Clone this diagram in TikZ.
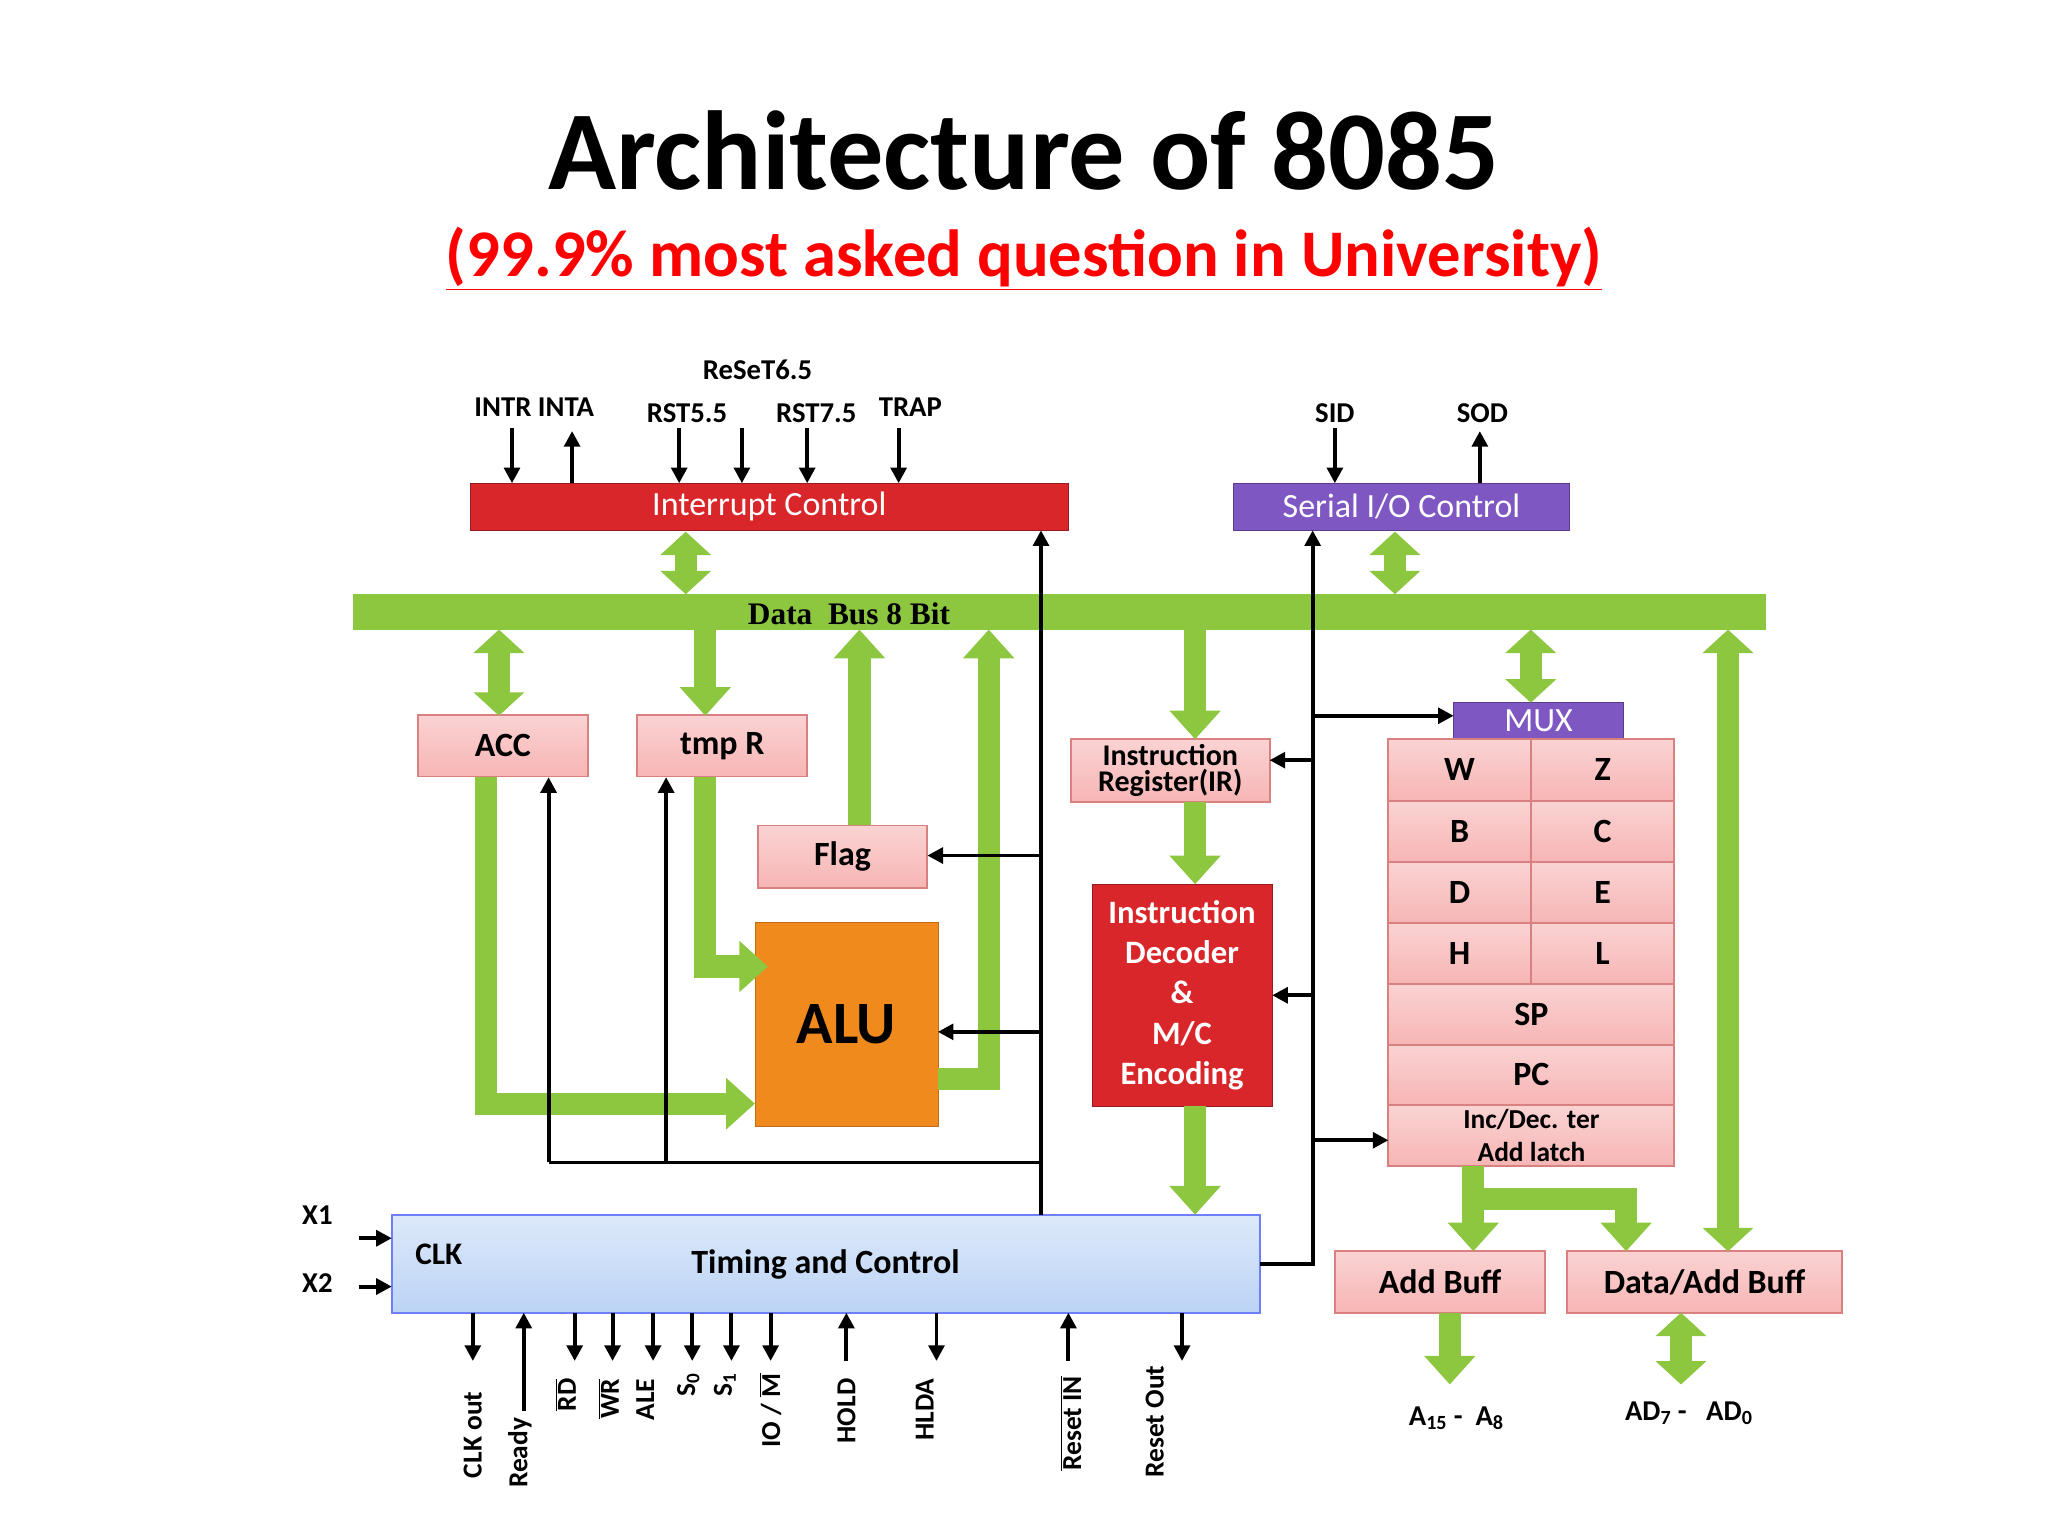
\documentclass[tikz,border=0pt]{standalone}
\usepackage{fontspec}
\setmainfont{Carlito}
\newfontfamily\serifb{Liberation Serif}
\usetikzlibrary{arrows.meta}
\definecolor{gr}{HTML}{8DC63F}
\definecolor{pinkc}{HTML}{F7B5B5}
\definecolor{pinkd}{HTML}{D98080}
\definecolor{redc}{HTML}{D9262A}
\definecolor{purp}{HTML}{7E57C2}
\definecolor{bluec}{HTML}{BBD3F5}
\definecolor{orng}{HTML}{F08A1C}
\begin{document}
\begin{tikzpicture}[x=1pt,y=-1pt,
 box/.style={draw=pinkd,line width=1.5pt,top color=pinkc!60,bottom color=pinkc,inner sep=0pt,font=\fontsize{26}{28}\selectfont\bfseries},
 garrow/.style={draw=gr,line width=17pt,-{Triangle[length=22pt,width=38pt]}},
 gdouble/.style={draw=gr,line width=17pt,{Triangle[length=18pt,width=38pt]}-{Triangle[length=18pt,width=38pt]}},
 barrow/.style={draw=black,line width=3pt,-{Triangle[length=12pt,width=12pt]}},
 lbl/.style={font=\fontsize{22}{24}\selectfont\bfseries},
 vlbl/.style={font=\fontsize{21}{23}\selectfont\bfseries,rotate=90,anchor=east}]
\useasboundingbox (0,0) rectangle (1568,1176);
% title
\node (title) at (784,115) {\fontsize{86}{90}\selectfont\bfseries Architecture of 8085};
\node[text=red] (sub) at (784,198) {\fontsize{51}{55}\selectfont\bfseries\underline{(99.9\% most asked question in University)}};
% blocks
\node[draw=redc!70!black,fill=redc,minimum width=458pt,minimum height=36pt,text=white,font=\fontsize{26}{28}\selectfont] (ic) at (589,388) {Interrupt Control};
\node[draw=purp!70!black,fill=purp,minimum width=257pt,minimum height=36pt,text=white,font=\fontsize{26}{28}\selectfont] (sio) at (1073,388) {Serial I/O Control};
\fill[gr] (270,455) rectangle (1352,482);
\node (dbus) at (650,470) {\serifb\fontsize{24}{26}\selectfont\bfseries Data\ \ Bus 8 Bit};
\node[box,minimum width=130pt,minimum height=47pt] (acc) at (385,571) {ACC};
\node[box,minimum width=130pt,minimum height=47pt] (tmp) at (553,571) {tmp R};
\node[box,minimum width=130pt,minimum height=48pt] (flag) at (645,656) {Flag};
\node[draw=orng!80!black,fill=orng,minimum width=140pt,minimum height=156pt,font=\fontsize{46}{48}\selectfont\bfseries] (alu) at (648,784) {ALU};
\node[box,minimum width=152pt,minimum height=48pt,align=center,font=\fontsize{23}{20}\selectfont\bfseries] (ir) at (896,590) {Instruction\\Register(IR)};
\node[draw=redc!70!black,fill=redc,minimum width=138pt,minimum height=170pt,text=white,align=center,font=\fontsize{25}{31}\selectfont\bfseries] (dec) at (905,762) {Instruction\\Decoder\\\&\\M/C\\Encoding};
\node[draw=purp!70!black,fill=purp,minimum width=130pt,minimum height=28pt,text=white,font=\fontsize{26}{28}\selectfont] (mux) at (1178,552) {MUX};
% register file
\node[box,minimum width=109pt,minimum height=47pt] (w) at (1117.5,589.5) {W};
\node[box,minimum width=110pt,minimum height=47pt] (z) at (1227,589.5) {Z};
\node[box,minimum width=109pt,minimum height=47pt] (b) at (1117.5,636.5) {B};
\node[box,minimum width=110pt,minimum height=47pt] (c) at (1227,636.5) {C};
\node[box,minimum width=109pt,minimum height=47pt] (d) at (1117.5,683.5) {D};
\node[box,minimum width=110pt,minimum height=47pt] (e) at (1227,683.5) {E};
\node[box,minimum width=109pt,minimum height=46pt] (h) at (1117.5,730) {H};
\node[box,minimum width=110pt,minimum height=46pt] (l) at (1227,730) {L};
\node[box,minimum width=219pt,minimum height=47pt] (sp) at (1172.5,776.5) {SP};
\node[box,minimum width=219pt,minimum height=46pt] (pc) at (1172.5,823) {PC};
\node[box,minimum width=219pt,minimum height=47pt,align=center,font=\fontsize{21}{25}\selectfont\bfseries] (inc) at (1172.5,869.5) {Inc/Dec. ter\\Add latch};
\node[draw=bluec!60!blue,line width=1.5pt,top color=bluec!50,bottom color=bluec,minimum width=665pt,minimum height=75pt] (tc) at (632.5,967.5) {};
\node[font=\fontsize{26}{28}\selectfont\bfseries] (tct) at (632,968) {Timing and Control};
\node[font=\fontsize{24}{26}\selectfont\bfseries] (clk) at (336,960) {CLK};
\node[box,minimum width=161pt,minimum height=47pt] (ab) at (1102.5,981.5) {Add Buff};
\node[box,minimum width=210pt,minimum height=47pt] (dab) at (1305,981.5) {Data/Add Buff};
% green arrows
\draw[gdouble] (525,407) -- (525,455);
\draw[gdouble] (1068,407) -- (1068,455);
\draw[gdouble] (382,482) -- (382,548);
\draw[garrow] (540,482) -- (540,548);
\draw[garrow] (658,632) -- (658,482);
\draw[garrow] (718,826) -- (757,826) -- (757,482);
\draw[garrow] (372,595) -- (372,845) -- (578,845);
\draw[garrow] (540,595) -- (540,740) -- (588,740);
\draw[garrow] (915,482) -- (915,566);
\draw[garrow] (915,614) -- (915,677);
\draw[garrow] (915,847) -- (915,930);
\draw[gdouble] (1172,482) -- (1172,538);
\draw[gdouble] (1323,482) -- (1323,958);
\draw[garrow] (1128,893) -- (1128,958);
\draw[garrow] (1128,918) -- (1245,918) -- (1245,958);
\draw[garrow] (1110,1005) -- (1110,1060);
\draw[gdouble] (1287,1005) -- (1287,1060);
\node[lbl] (a15) at (1115,1086) {A\textsubscript{15} -\ \ A\textsubscript{8}};
\node[lbl] (ad7) at (1293,1082) {AD\textsubscript{7} -\ \ \ AD\textsubscript{0}};
% black control lines
\draw[barrow] (797,930) -- (797,406);
\draw[barrow] (797,655) -- (710,655);
\draw[barrow] (797,790) -- (718,790);
\draw[line width=3pt] (420,890) -- (797,890);
\draw[barrow] (420,890) -- (420,595);
\draw[barrow] (510,890) -- (510,595);
\draw[barrow] (965,968) -- (1005,968) -- (1005,406);
\draw[barrow] (1005,548) -- (1113,548);
\draw[barrow] (1005,582) -- (972,582);
\draw[barrow] (1005,762) -- (974,762);
\draw[barrow] (1005,873) -- (1063,873);
% interrupts
\foreach \x in {392,520,568,618,688} \draw[barrow] (\x,328) -- (\x,370);
\draw[barrow] (438,370) -- (438,330);
\node[lbl] at (409,312) {INTR INTA};
\node[lbl] at (526,316) {RST5.5};
\node[lbl] at (580,283) {ReSeT6.5};
\node[lbl] at (625,316) {RST7.5};
\node[lbl] at (697,312) {TRAP};
\draw[barrow] (1022,328) -- (1022,370);
\draw[barrow] (1133,370) -- (1133,330);
\node[lbl] at (1022,316) {SID};
\node[lbl] at (1135,316) {SOD};
% clocks
\draw[barrow] (275,948) -- (300,948);
\draw[barrow] (275,985) -- (300,985);
\node[lbl] at (243,930) {X1};
\node[lbl] at (243,982) {X2};
% bottom signals
\foreach \x in {362,440,469,500,530,560,590,717,905} \draw[barrow] (\x,1005) -- (\x,1042);
\draw[barrow] (401,1080) -- (401,1005);
\draw[barrow] (648,1042) -- (648,1005);
\draw[barrow] (818,1042) -- (818,1005);
\node[vlbl] at (362,1062) {CLK out};
\node[vlbl] at (398,1082) {Ready};
\node[vlbl] at (433,1052) {$\overline{\mbox{RD}}$};
\node[vlbl] at (466,1052) {$\overline{\mbox{WR}}$};
\node[vlbl] at (494,1052) {ALE};
\node[vlbl] at (527,1048) {S\textsubscript{0}};
\node[vlbl] at (555,1048) {S\textsubscript{1}};
\node[vlbl] at (590,1048) {IO / $\overline{\mbox{M}}$};
\node[vlbl] at (648,1052) {HOLD};
\node[vlbl] at (708,1052) {HLDA};
\node[vlbl] at (820,1050) {$\overline{\mbox{Reset IN}}$};
\node[vlbl] at (884,1042) {Reset Out};
\end{tikzpicture}
\end{document}
